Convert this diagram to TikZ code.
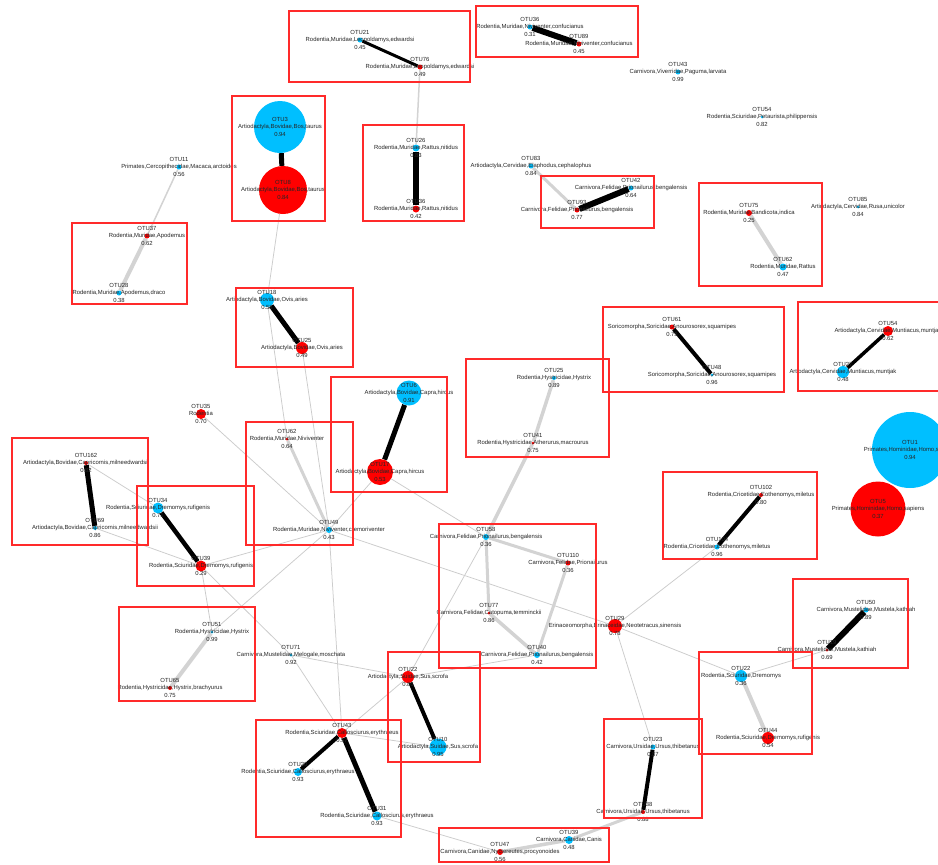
\documentclass[tikz,border=0pt]{standalone}
\usepackage{fontspec}
\setmainfont{Liberation Sans}
\pgfdeclarelayer{background}
\pgfdeclarelayer{foreground}
\pgfsetlayers{background,main,foreground}
\definecolor{otublue}{HTML}{00BFFF}
\definecolor{otured}{HTML}{FF0000}
\definecolor{boxred}{HTML}{FF2A2A}
\definecolor{edgegrey}{HTML}{D3D3D3}
\definecolor{thingrey}{HTML}{CCCCCC}
\tikzset{
 dot/.style={circle,inner sep=0pt,minimum size=#1*2pt,draw=none},
 lbl/.style={inner sep=0pt,text height=4.2pt,text depth=1.2pt,font=\fontsize{5.9}{7}\selectfont,text=black!85},
 strong/.style={line width=#1pt,black},
 weak/.style={line width=#1pt,edgegrey},
 faint/.style={line width=0.75pt,thingrey},
 grp/.style={draw=boxred,line width=1.2pt},
}
\newcommand\otu[8]{%
 \node[dot=#4,fill=#5] (#1) at (#2,#3) {};
 \begin{pgfonlayer}{foreground}
 \node[lbl] (#1-n) at (#2,#3-7.5) {#6};
 \node[lbl] (#1-t) at (#2,#3) {#7};
 \node[lbl] (#1-v) at (#2,#3+7.5) {#8};
 \end{pgfonlayer}
}
\begin{document}
\begin{tikzpicture}[x=1pt,y=-1pt]
\useasboundingbox (0,0) rectangle (938,865);
\begin{pgfonlayer}{background}
\fill[white] (0,0) rectangle (938,865);
\end{pgfonlayer}
% nodes
\otu{n11}{179}{167}{2.5}{otublue}{OTU11}{Primates,Cercopithecidae,Macaca,arctoides}{0.56}
\otu{n3}{280}{127}{26}{otublue}{OTU3}{Artiodactyla,Bovidae,Bos,taurus}{0.94}
\otu{n8}{283}{190}{24}{otured}{OTU8}{Artiodactyla,Bovidae,Bos,taurus}{0.84}
\otu{n37}{147}{236}{2.5}{otured}{OTU37}{Rodentia,Muridae,Apodemus}{0.62}
\otu{n28}{119}{293}{2.5}{otublue}{OTU28}{Rodentia,Muridae,Apodemus,draco}{0.38}
\otu{n21}{360}{40}{2.5}{otublue}{OTU21}{Rodentia,Muridae,Leopoldamys,edwardsi}{0.45}
\otu{n76}{420}{67}{2.5}{otured}{OTU76}{Rodentia,Muridae,Leopoldamys,edwardsi}{0.49}
\otu{nD36}{530}{27}{2.5}{otublue}{OTU36}{Rodentia,Muridae,Niviventer,confucianus}{0.31}
\otu{n89}{579}{44}{2.5}{otured}{OTU89}{Rodentia,Muridae,Niviventer,confucianus}{0.45}
\otu{n26}{416}{148}{3.5}{otublue}{OTU26}{Rodentia,Muridae,Rattus,nitidus}{0.83}
\otu{nE36}{416}{209}{3.5}{otured}{OTU36}{Rodentia,Muridae,Rattus,nitidus}{0.42}
\otu{n83}{531}{166}{2.5}{otublue}{OTU83}{Artiodactyla,Cervidae,Elaphodus,cephalophus}{0.84}
\otu{n93}{577}{210}{2.5}{otured}{OTU93}{Carnivora,Felidae,Prionailurus,bengalensis}{0.77}
\otu{n42}{631}{188}{2.5}{otublue}{OTU42}{Carnivora,Felidae,Prionailurus,bengalensis}{0.64}
\otu{n43v}{678}{72}{2.5}{otublue}{OTU43}{Carnivora,Viverridae,Paguma,larvata}{0.99}
\otu{n54s}{762}{117}{1.5}{otublue}{OTU54}{Rodentia,Sciuridae,Petaurista,philippensis}{0.82}
\otu{n75}{749}{213}{3}{otured}{OTU75}{Rodentia,Muridae,Bandicota,indica}{0.25}
\otu{n62r}{783}{267}{3.5}{otublue}{OTU62}{Rodentia,Muridae,Rattus}{0.47}
\otu{n85}{858}{207}{1.5}{otublue}{OTU85}{Artiodactyla,Cervidae,Rusa,unicolor}{0.84}
\otu{n18}{267}{300}{7}{otublue}{OTU18}{Artiodactyla,Bovidae,Ovis,aries}{0.58}
\otu{n25}{302}{348}{6}{otured}{OTU25}{Artiodactyla,Bovidae,Ovis,aries}{0.49}
\otu{n35}{201}{414}{5}{otured}{OTU35}{Rodentia}{0.70}
\otu{n162}{86}{463}{2}{otured}{OTU162}{Artiodactyla,Bovidae,Capricornis,milneedwardsii}{0.82}
\otu{n69}{95}{528}{2}{otublue}{OTU69}{Artiodactyla,Bovidae,Capricornis,milneedwardsii}{0.86}
\otu{n34}{158}{508}{5.5}{otublue}{OTU34}{Rodentia,Sciuridae,Dremomys,rufigenis}{0.71}
\otu{n39}{201}{566}{5.5}{otured}{OTU39}{Rodentia,Sciuridae,Dremomys,rufigenis}{0.29}
\otu{n62}{287}{439}{1.5}{otured}{OTU62}{Rodentia,Muridae,Niviventer}{0.64}
\otu{n49}{329}{530}{3}{otublue}{OTU49}{Rodentia,Muridae,Niviventer,cremoriventer}{0.43}
\otu{n6}{409}{393}{12.5}{otublue}{OTU6}{Artiodactyla,Bovidae,Capra,hircus}{0.91}
\otu{n17}{380}{472}{13}{otured}{OTU17}{Artiodactyla,Bovidae,Capra,hircus}{0.53}
\otu{n25h}{554}{378}{2}{otublue}{OTU25}{Rodentia,Hystricidae,Hystrix}{0.89}
\otu{n41}{533}{443}{1.5}{otured}{OTU41}{Rodentia,Hystricidae,Atherurus,macrourus}{0.75}
\otu{n58}{486}{537}{3}{otublue}{OTU58}{Carnivora,Felidae,Prionailurus,bengalensis}{0.36}
\otu{n110}{568}{563}{2.5}{otured}{OTU110}{Carnivora,Felidae,Prionailurus}{0.36}
\otu{n77}{489}{613}{1.5}{otured}{OTU77}{Carnivora,Felidae,Catopuma,temminckii}{0.86}
\otu{n40}{537}{655}{3}{otublue}{OTU40}{Carnivora,Felidae,Prionailurus,bengalensis}{0.42}
\otu{n29}{615}{626}{7}{otured}{OTU29}{Erinaceomorpha,Erinaceidae,Neotetracus,sinensis}{0.78}
\otu{n61}{672}{327}{2.5}{otured}{OTU61}{Soricomorpha,Soricidae,Anourosorex,squamipes}{0.75}
\otu{n48}{712}{375}{1.5}{otublue}{OTU48}{Soricomorpha,Soricidae,Anourosorex,squamipes}{0.96}
\otu{n54}{888}{331}{5}{otured}{OTU54}{Artiodactyla,Cervidae,Muntiacus,muntjak}{0.62}
\otu{n27}{843}{372}{6}{otublue}{OTU27}{Artiodactyla,Cervidae,Muntiacus,muntjak}{0.48}
\otu{n1}{910}{450}{38}{otublue}{OTU1}{Primates,Hominidae,Homo,sapiens}{0.94}
\otu{n5}{878}{509}{27.5}{otured}{OTU5}{Primates,Hominidae,Homo,sapiens}{0.37}
\otu{n102}{761}{495}{2}{otured}{OTU102}{Rodentia,Cricetidae,Eothenomys,miletus}{0.80}
\otu{n1e}{717}{547}{2.5}{otublue}{OTU104}{Rodentia,Cricetidae,Eothenomys,miletus}{0.96}
\otu{n50}{866}{610}{2.5}{otublue}{OTU50}{Carnivora,Mustelidae,Mustela,kathiah}{0.89}
\otu{n1m}{827}{650}{1.5}{otured}{OTU19}{Carnivora,Mustelidae,Mustela,kathiah}{0.69}
\otu{n22d}{741}{676}{6}{otublue}{OTU22}{Rodentia,Sciuridae,Dremomys}{0.36}
\otu{n44}{768}{738}{6}{otured}{OTU44}{Rodentia,Sciuridae,Dremomys,rufigenis}{0.54}
\otu{n23}{653}{747}{2.5}{otublue}{OTU23}{Carnivora,Ursidae,Ursus,thibetanus}{0.87}
\otu{n38}{643}{812}{2}{otured}{OTU38}{Carnivora,Ursidae,Ursus,thibetanus}{0.88}
\otu{n22}{408}{677}{6}{otured}{OTU22}{Artiodactyla,Suidae,Sus,scrofa}{0.86}
\otu{n10}{438}{747}{8.5}{otublue}{OTU10}{Artiodactyla,Suidae,Sus,scrofa}{0.95}
\otu{n43}{342}{733}{5}{otured}{OTU43}{Rodentia,Sciuridae,Callosciurus,erythraeus}{0.57}
\otu{n2x}{298}{772}{4}{otublue}{OTU20}{Rodentia,Sciuridae,Callosciurus,erythraeus}{0.93}
\otu{n31}{377}{816}{4.5}{otublue}{OTU31}{Rodentia,Sciuridae,Callosciurus,erythraeus}{0.93}
\otu{n47}{500}{852}{3}{otured}{OTU47}{Carnivora,Canidae,Nyctereutes,procyonoides}{0.56}
\otu{n39c}{569}{840}{4}{otublue}{OTU39}{Carnivora,Canidae,Canis}{0.48}
\otu{n51}{212}{632}{1.5}{otublue}{OTU51}{Rodentia,Hystricidae,Hystrix}{0.99}
\otu{n65}{170}{688}{2}{otured}{OTU65}{Rodentia,Hystricidae,Hystrix,brachyurus}{0.75}
\otu{n71}{291}{655}{1.5}{otublue}{OTU71}{Carnivora,Mustelidae,Melogale,moschata}{0.92}
% edges
\begin{pgfonlayer}{background}
\foreach \a/\b in {n8/n18,n18/n62,n25/n49,n35/n49,n17/n49,n39/n49,n162/n34,n69/n39,n39/n51,n49/n51,n39/n71,n71/n43,n71/n22,n49/n43,n49/n29,n17/n58,n58/n22,n22/n40,n22/n43,n43/n10,n31/n47,n23/n29,n29/n22d,n29/n1e,n22d/n1m}
 \draw[faint] (\a) -- (\b);
\foreach \a/\b/\w in {n37/n28/4,n75/n62r/4,n62/n49/3,n51/n65/4,n25h/n41/3.5,n41/n58/3.5,n58/n77/3,n58/n110/3,n77/n40/3.5,n110/n40/3,n22d/n44/4,n47/n39c/3.5,n39c/n38/3,n83/n93/3,n76/n26/1.5,n11/n37/1.5}
 \draw[weak=\w] (\a) -- (\b);
\foreach \a/\b/\w in {n3/n8/5,n21/n76/3,nD36/n89/6,n26/nE36/6,n42/n93/6,n18/n25/5,n6/n17/5,n162/n69/5,n34/n39/4.5,n61/n48/4,n54/n27/3.5,n102/n1e/4,n50/n1m/6,n22/n10/4,n43/n2x/4,n43/n31/5,n23/n38/4}
 \draw[strong=\w] (\a) -- (\b);
\end{pgfonlayer}
% groups
\begin{pgfonlayer}{foreground}
\foreach \x/\y/\X/\Y in {289/11/470/82,232/96/325/221,72/223/187/304,476/6/638/57,363/125/464/221,541/176/654/228,699/183/822/286,236/288/353/367,12/438/148/545,137/486/254/586,246/422/353/545,331/377/447/492,466/359/609/457,603/307/784/392,439/524/596/668,798/302/945/391,663/472/817/559,793/579/908/668,699/652/812/754,604/719/702/818,388/652/480/762,256/720/401/837,439/828/609/862,119/607/255/701}
 \draw[grp] (\x,\y) rectangle (\X,\Y);
\end{pgfonlayer}
\end{tikzpicture}
\end{document}
